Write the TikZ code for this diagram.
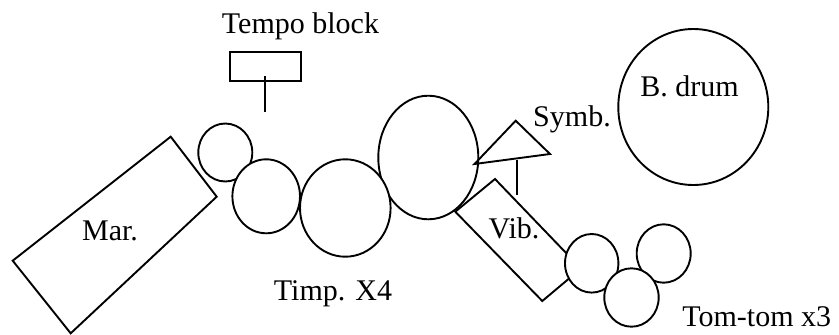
\documentclass[tikz,border=0pt]{standalone}
\usepackage{fontspec}
\setmainfont{Liberation Serif}
\begin{document}
\begin{tikzpicture}[x=1pt,y=-1pt,
  outl/.style={draw=black, line width=1.9pt},
  solid shape/.style={outl, fill=white},
  lbl/.style={anchor=base, inner sep=0pt, font=\fontsize{30}{36}\selectfont}]
\useasboundingbox (0,0) rectangle (839,335);
% marimba
\draw[outl] (170.7,136.7) -- (216.7,196.7) -- (70.7,333.3) -- (12.7,260.7) -- cycle;
% tempo block
\draw[outl] (230,51.7) rectangle (300.7,80.7);
\coordinate (tbtop) at (265,76);
\coordinate (tbfoot) at (265,112.3);
\draw[outl] (tbtop) -- (tbfoot);
% timpani
\draw[solid shape] (225.3,152.5) ellipse [x radius=27, y radius=29];
\draw[solid shape] (266.2,196.3) ellipse [x radius=33.8, y radius=37];
\draw[solid shape] (428.3,157.5) ellipse [x radius=50, y radius=61.8];
\draw[solid shape] (345.3,208) ellipse [x radius=45.3, y radius=48.7];
% cymbal
\draw[outl] (474.5,164) -- (515.7,120.7) -- (550,154) -- cycle;
\coordinate (cytop) at (517,160);
\coordinate (cyfoot) at (517,195);
\draw[outl] (cytop) -- (cyfoot);
% vibraphone
\draw[outl] (455.3,211.7) -- (495,179) -- (581,268.5) -- (542.3,301) -- cycle;
% bass drum
\draw[outl] (693.3,107) ellipse [x radius=75, y radius=78];
% tom-toms
\draw[solid shape] (663.7,253.5) ellipse [x radius=27, y radius=29.2];
\draw[solid shape] (591.7,263.3) ellipse [x radius=26.7, y radius=29.3];
\draw[solid shape] (631.5,297.5) ellipse [x radius=27.2, y radius=29.2];
% labels
\node[lbl] (tempo) at (300.5,33.3) {Tempo block};
\node[lbl] (mar) at (110,240) {Mar.};
\node[lbl] (timp) at (333,300) {Timp. X4};
\node[lbl] (symb) at (572,126.7) {Symb.};
\node[lbl] (bdrum) at (689.5,96) {B. drum};
\node[lbl] (vib) at (514,238.3) {Vib.};
\node[lbl] (tom) at (756.7,326.7) {Tom-tom x3};
\end{tikzpicture}
\end{document}
